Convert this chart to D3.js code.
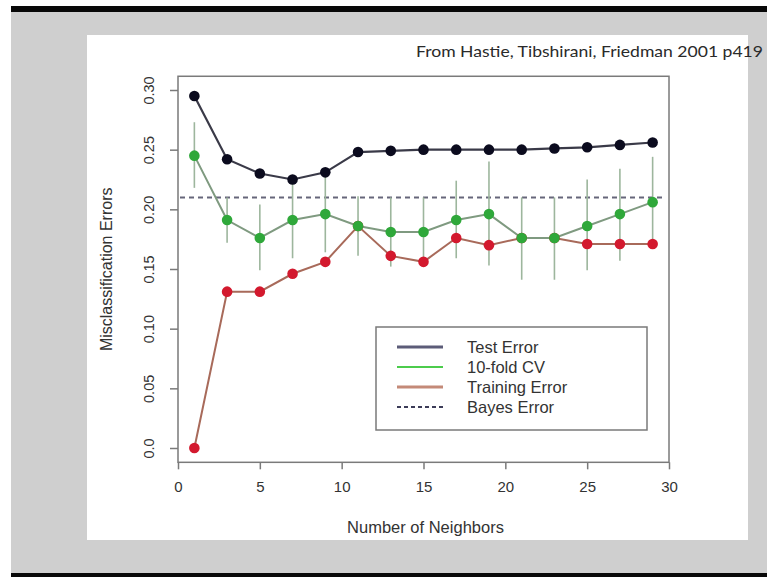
<!DOCTYPE html>
<html>
<head>
<meta charset="utf-8">
<script src="https://cdn.jsdelivr.net/npm/d3@7"></script>
<style>
  html, body { margin: 0; padding: 0; background: #ffffff; }
  svg { display: block; }
</style>
</head>
<body>
<svg id="chart" width="767" height="577"></svg>
<script>
// ---- data ----
const neighbors = [1, 3, 5, 7, 9, 11, 13, 15, 17, 19, 21, 23, 25, 27, 29];
const testError = [0.295, 0.242, 0.230, 0.225, 0.231, 0.248, 0.249, 0.250, 0.250, 0.250, 0.250, 0.251, 0.252, 0.254, 0.256];
const cvError   = [0.245, 0.191, 0.176, 0.191, 0.196, 0.186, 0.181, 0.181, 0.191, 0.196, 0.176, 0.176, 0.186, 0.196, 0.206];
const cvLower   = [0.218, 0.172, 0.149, 0.159, 0.164, 0.161, 0.152, 0.153, 0.159, 0.153, 0.141, 0.141, 0.149, 0.157, 0.171];
const cvUpper   = [0.273, 0.210, 0.204, 0.226, 0.230, 0.211, 0.210, 0.210, 0.224, 0.240, 0.210, 0.210, 0.225, 0.234, 0.244];
const trainError = [0.000, 0.131, 0.131, 0.146, 0.156, 0.186, 0.161, 0.156, 0.176, 0.170, 0.176, 0.176, 0.171, 0.171, 0.171];
const bayesError = 0.21;
const xTicks = [0, 5, 10, 15, 20, 25, 30];
const yTicks = [0.0, 0.05, 0.10, 0.15, 0.20, 0.25, 0.30];
const yTickLabels = ["0.0", "0.05", "0.10", "0.15", "0.20", "0.25", "0.30"];
const legendLabels = ["Test Error", "10-fold CV", "Training Error", "Bayes Error"];

const svg = d3.select("#chart");

// slide background
svg.append("rect").attr("x", 11).attr("y", 7).attr("width", 756).attr("height", 570).attr("fill", "#cfcfcf");
svg.append("rect").attr("x", 11).attr("y", 6).attr("width", 756).attr("height", 6).attr("fill", "#080808");
svg.append("rect").attr("x", 11).attr("y", 573).attr("width", 756).attr("height", 4).attr("fill", "#080808");
svg.append("rect").attr("x", 87).attr("y", 35).attr("width", 661).attr("height", 505).attr("fill", "#ffffff");

// citation
svg.append("text")
  .attr("x", 416).attr("y", 57)
  .attr("font-family", "Lato, 'Open Sans', sans-serif")
  .attr("font-size", 16)
  .attr("fill", "#2a2a2a")
  .attr("textLength", 347)
  .attr("lengthAdjust", "spacingAndGlyphs")
  .text("From Hastie, Tibshirani, Friedman 2001 p419");

// scales
const x = d3.scaleLinear().domain([0, 30]).range([178, 669]);
const y = d3.scaleLinear().domain([0, 0.30]).range([448, 90]);
const yBoxLo = -0.012, yBoxHi = 0.3115;

const axisColor = "#7a7a7a";
const font = "'Liberation Sans', Arial, Helvetica, sans-serif";

// plot box
svg.append("rect")
  .attr("x", x(0)).attr("y", y(yBoxHi))
  .attr("width", x(30) - x(0)).attr("height", y(yBoxLo) - y(yBoxHi))
  .attr("fill", "none").attr("stroke", axisColor).attr("stroke-width", 1.5);

// x axis
const xAxis = d3.axisBottom(x).tickValues(xTicks).tickSize(7).tickPadding(12).tickFormat(d3.format("d"));
const gx = svg.append("g").attr("transform", `translate(0,${y(yBoxLo)})`).call(xAxis);
gx.select(".domain").remove();
gx.selectAll("line").attr("stroke", axisColor).attr("stroke-width", 1.5);
gx.selectAll("text").attr("font-family", font).attr("font-size", 15).attr("fill", "#333");

// y axis
const yAxis = d3.axisLeft(y).tickValues(yTicks).tickSize(8).tickFormat((d, i) => yTickLabels[i]);
const gy = svg.append("g").attr("transform", `translate(${x(0)},0)`).call(yAxis);
gy.select(".domain").remove();
gy.selectAll("line").attr("stroke", axisColor).attr("stroke-width", 1.5);
gy.selectAll("text")
  .attr("font-family", font).attr("font-size", 14.5).attr("fill", "#333")
  .attr("text-anchor", "middle")
  .attr("x", 0).attr("dy", 0)
  .attr("transform", "translate(-24,0) rotate(-90)");

// axis titles
svg.append("text")
  .attr("x", (x(0) + x(30)) / 2 + 2).attr("y", 533)
  .attr("text-anchor", "middle")
  .attr("font-family", font).attr("font-size", 16.5).attr("fill", "#333")
  .text("Number of Neighbors");
svg.append("text")
  .attr("transform", `translate(112,${(y(yBoxLo) + y(yBoxHi)) / 2}) rotate(-90)`)
  .attr("text-anchor", "middle")
  .attr("font-family", font).attr("font-size", 16).attr("fill", "#333")
  .text("Misclassification Errors");

// bayes line
svg.append("line")
  .attr("x1", x(0) + 2).attr("x2", x(30) - 4)
  .attr("y1", y(bayesError)).attr("y2", y(bayesError))
  .attr("stroke", "#66667a").attr("stroke-width", 2).attr("stroke-dasharray", "5,4");

// error bars
svg.append("g").selectAll("line").data(neighbors).join("line")
  .attr("x1", d => x(d)).attr("x2", d => x(d))
  .attr("y1", (d, i) => y(cvUpper[i])).attr("y2", (d, i) => y(cvLower[i]))
  .attr("stroke", "#9db69d").attr("stroke-width", 1.6);

const line = d3.line().x((d, i) => x(neighbors[i])).y(d => y(d));

// lines
svg.append("path").datum(trainError).attr("d", line)
  .attr("fill", "none").attr("stroke", "#a86a5a").attr("stroke-width", 2);
svg.append("path").datum(cvError).attr("d", line)
  .attr("fill", "none").attr("stroke", "#7f9a80").attr("stroke-width", 2);
svg.append("path").datum(testError).attr("d", line)
  .attr("fill", "none").attr("stroke", "#3a3a48").attr("stroke-width", 2.2);

// points
function dots(vals, color) {
  svg.append("g").selectAll("circle").data(vals).join("circle")
    .attr("cx", (d, i) => x(neighbors[i])).attr("cy", d => y(d))
    .attr("r", 5.3).attr("fill", color);
}
dots(trainError, "#d3192e");
dots(cvError, "#2fa83a");
dots(testError, "#0b0b1e");

// legend
const lg = svg.append("g");
lg.append("rect").attr("x", 376).attr("y", 327).attr("width", 271).attr("height", 103)
  .attr("fill", "#ffffff").attr("stroke", "#7a7a7a").attr("stroke-width", 1.5);
const legendStyles = [
  { color: "#5c5c78", width: 3, dash: null },
  { color: "#4ccc4c", width: 2, dash: null },
  { color: "#c48a78", width: 3, dash: null },
  { color: "#3c3c58", width: 2, dash: "4,3" }
];
legendLabels.forEach((lab, i) => {
  const yy = 347 + i * 20;
  lg.append("line").attr("x1", 397).attr("x2", 443).attr("y1", yy).attr("y2", yy)
    .attr("stroke", legendStyles[i].color).attr("stroke-width", legendStyles[i].width)
    .attr("stroke-dasharray", legendStyles[i].dash);
  lg.append("text").attr("x", 467).attr("y", yy).attr("dy", "0.36em")
    .attr("font-family", font).attr("font-size", 16.5).attr("fill", "#333")
    .text(lab);
});
</script>
</body>
</html>
